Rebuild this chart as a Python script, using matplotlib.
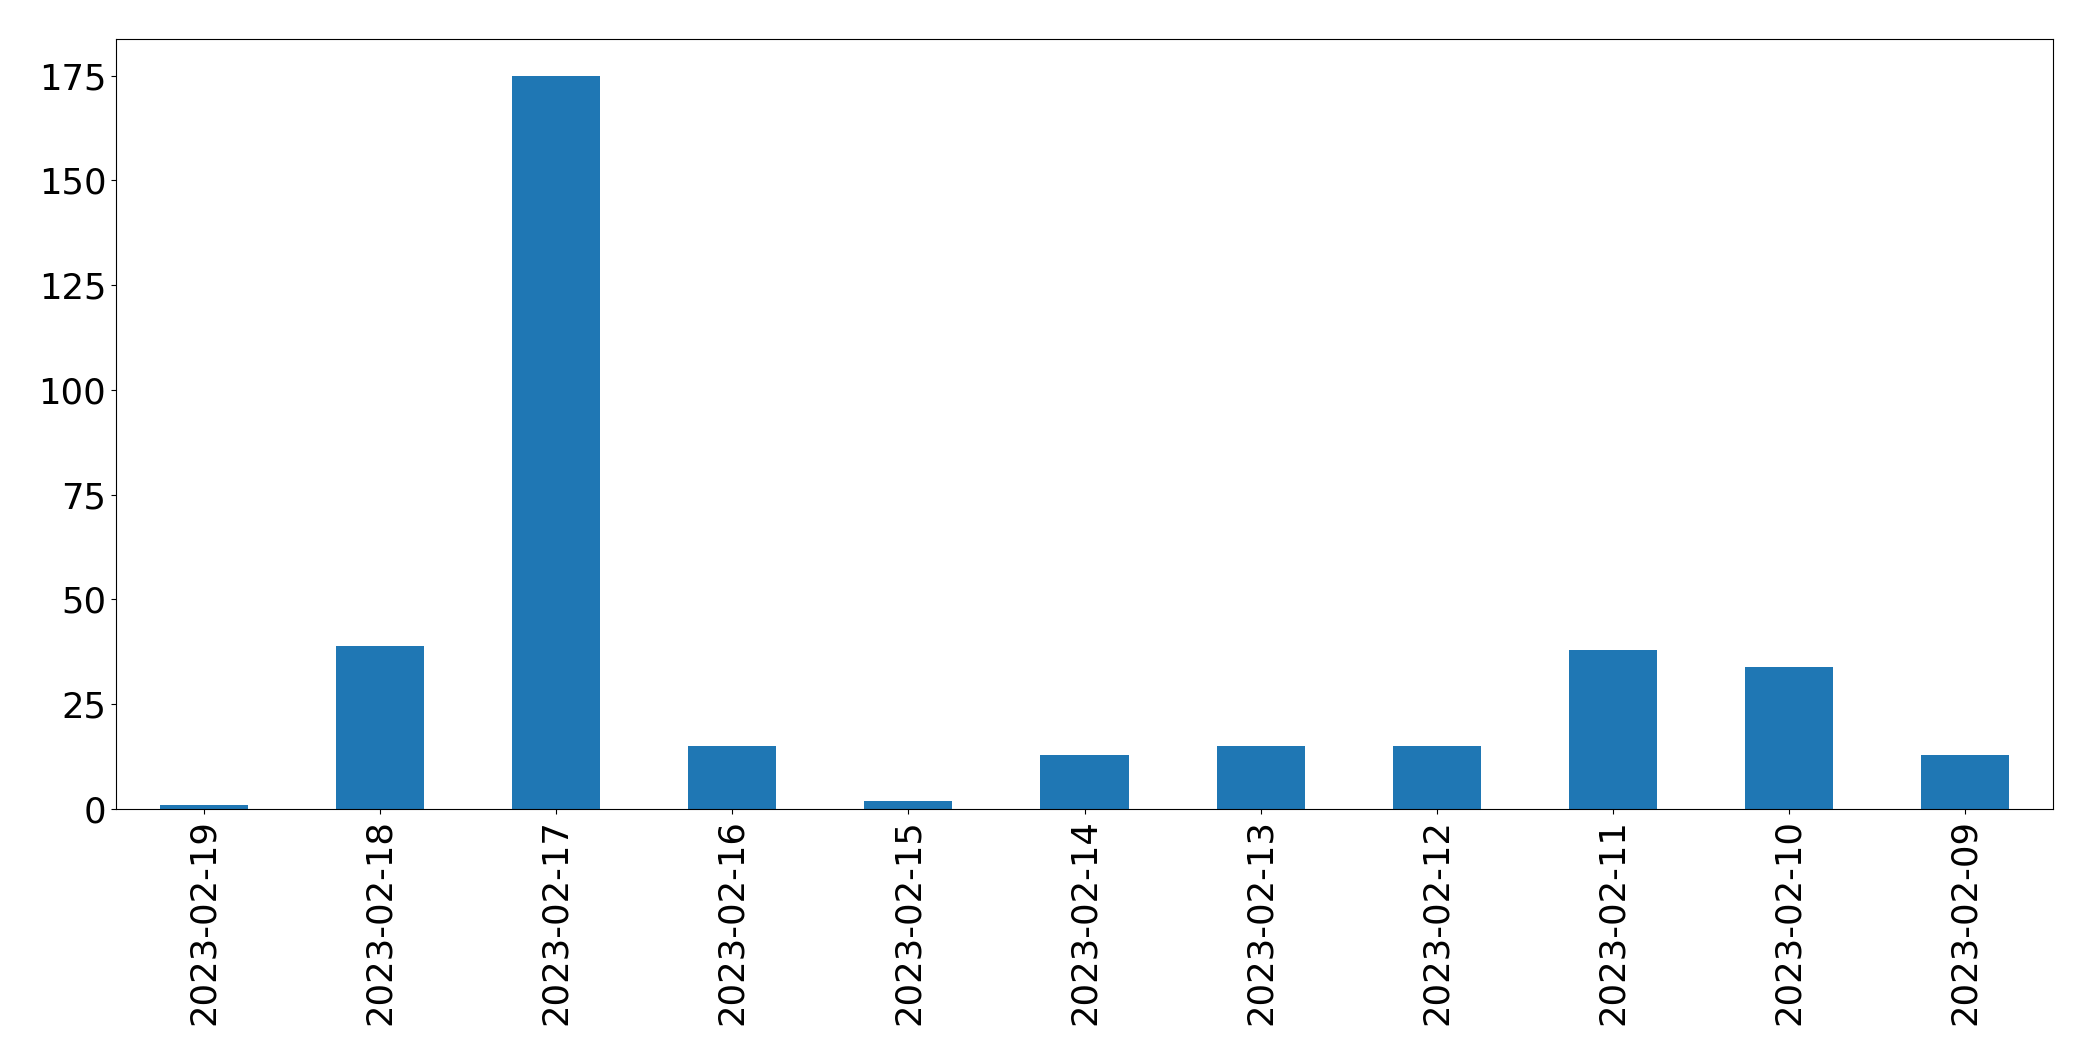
import matplotlib
matplotlib.use("Agg")
import matplotlib.pyplot as plt
import pandas as pd

# daily counts, newest first
dates = ["2023-02-19", "2023-02-18", "2023-02-17", "2023-02-16", "2023-02-15",
         "2023-02-14", "2023-02-13", "2023-02-12", "2023-02-11", "2023-02-10",
         "2023-02-09"]
counts = [1, 39, 175, 15, 2, 13, 15, 15, 38, 34, 13]

s = pd.Series(counts, index=dates)

fig = plt.figure(figsize=(20.93, 10.61), dpi=100)
ax = fig.add_axes([116 / 2093, 1 - 809 / 1061, (2053 - 116) / 2093, (809 - 39) / 1061])

s.plot(kind="bar", ax=ax, color="#1f77b4", width=0.5)
ax.set_xlim(-0.5, len(dates) - 0.5)
ax.tick_params(axis="both", labelsize=25.5)
ax.tick_params(axis="x", rotation=90)

fig.savefig("out.png", dpi=100)
